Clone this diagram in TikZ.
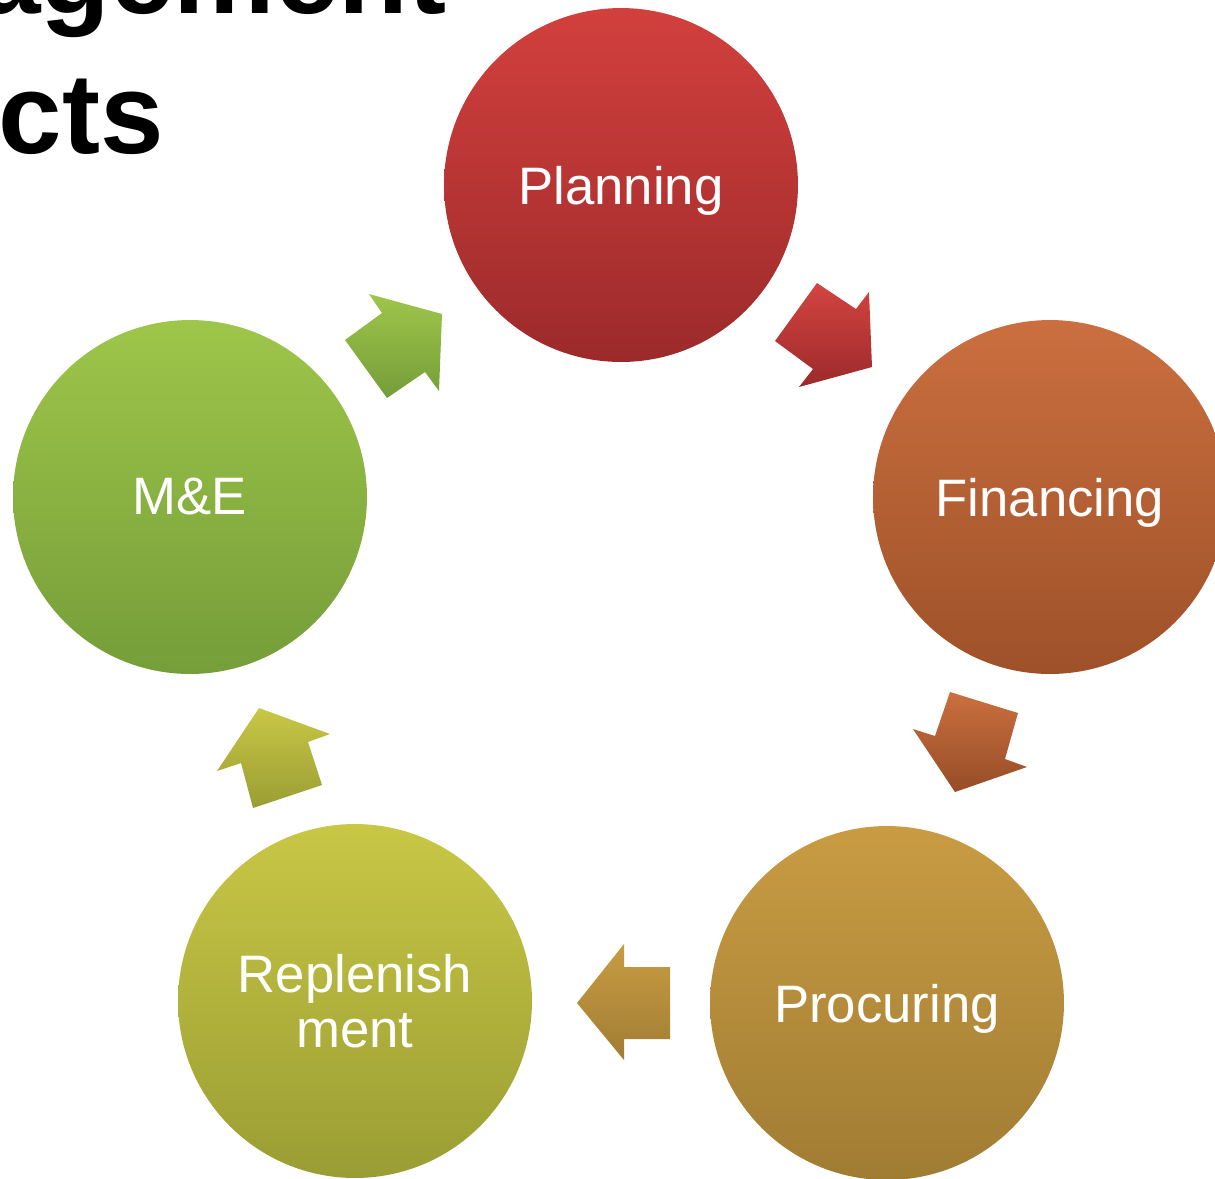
\documentclass[tikz,border=0pt]{standalone}
\usepackage{fontspec}
\setmainfont{Liberation Sans}
\usepackage{tikz}
\usetikzlibrary{positioning,calc}

\definecolor{plan_top}{HTML}{D2403D}
\definecolor{plan_bot}{HTML}{9C2A2B}
\definecolor{fin_top}{HTML}{CB6F3F}
\definecolor{fin_bot}{HTML}{9E5129}
\definecolor{proc_top}{HTML}{C99C43}
\definecolor{proc_bot}{HTML}{A07C33}
\definecolor{repl_top}{HTML}{C8C746}
\definecolor{repl_bot}{HTML}{9A9D33}
\definecolor{me_top}{HTML}{9EC64A}
\definecolor{me_bot}{HTML}{759D39}

\begin{document}
\begin{tikzpicture}[x=0.02cm, y=-0.02cm,
phase_node/.style={circle, minimum size=7.08cm, inner sep=0pt, text=white, align=center,
font=\fontsize{30}{31}\selectfont},
title_text/.style={inner sep=0pt, font=\fontsize{65}{80}\selectfont\bfseries, text=black},
phase_r/.style={phase_node, top color=plan_top, bottom color=plan_bot},
phase_o/.style={phase_node, top color=fin_top, bottom color=fin_bot},
phase_g/.style={phase_node, top color=proc_top, bottom color=proc_bot},
phase_y/.style={phase_node, top color=repl_top, bottom color=repl_bot},
phase_v/.style={phase_node, top color=me_top, bottom color=me_bot}]

   % fix the page to the picture frame
   \useasboundingbox (0,0) rectangle (1215,1178);
   \clip (0,0) rectangle (1215,1178);

   % title, cut off at the page edge
   \node[title_text, anchor=base east] (title_top) at (447,13) {agement};
   \node[title_text, anchor=base east] (title_bot) at (164,153) {cts};

   % the five phases
   \node[phase_r, text depth=0pt] (plan) at (621,185) {Planning};
   \node[phase_o, text depth=0pt] (fin)  at (1050,497) {Financing};
   \node[phase_g, text depth=0pt] (proc) at (887,1003) {Procuring};
   \node[phase_y] (repl) at (355,1001) {Replenish\\ment};
   \node[phase_v] (me)   at (190,497) {M\&E};

   % block arrows between the phases
   \shade[top color=plan_top!98!white, bottom color=plan_bot]
       (775,341) -- (817,283) -- (856,309) -- (869,292) -- (872,367) -- (799,387) -- (813,369) -- cycle;
   \shade[top color=fin_top, bottom color=fin_bot!95!black]
       (950,692) -- (1018,713) -- (1005,759) -- (1027,767) -- (955,792) -- (913,729) -- (935,736) -- cycle;
   \shade[top color=proc_top, bottom color=proc_bot]
       (670,967) -- (670,1039) -- (624,1039) -- (624,1060) -- (577,1003) -- (624,944) -- (624,967) -- cycle;
   \shade[top color=repl_top, bottom color=repl_bot]
       (253,808) -- (241,763) -- (217,771) -- (259,708) -- (330,734) -- (308,742) -- (322,785) -- cycle;
   \shade[top color=me_top, bottom color=me_bot]
       (345,340) -- (382,313) -- (369,294) -- (442,314) -- (439,391) -- (425,372) -- (387,398) -- cycle;

\end{tikzpicture}
\end{document}
